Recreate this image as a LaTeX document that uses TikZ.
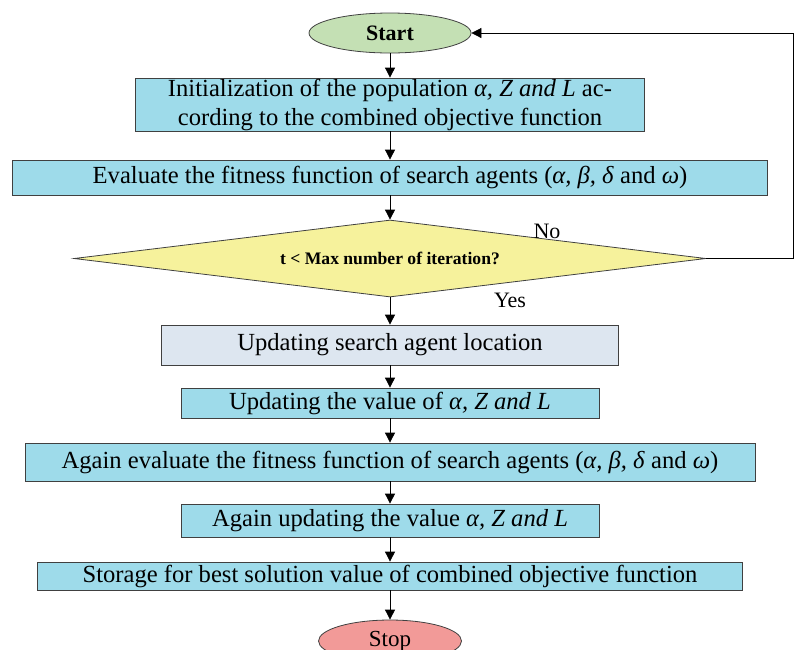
\documentclass[tikz,border=0pt]{standalone}
\usepackage{fontspec}
\setmainfont{Liberation Serif}
\usetikzlibrary{positioning, arrows.meta, shapes}

\definecolor{boxblue}{HTML}{9EDBEA}
\definecolor{boxgrey}{HTML}{DDE6F0}
\definecolor{startgreen}{HTML}{C4E0B4}
\definecolor{stopred}{HTML}{F29A98}
\definecolor{decyellow}{HTML}{F6F29C}

\begin{document}
\begin{tikzpicture}
            [x=0.5pt, y=-0.5pt,
             box/.style={rectangle, draw=black!75, fill=boxblue, inner sep=0pt, align=center,
                         font=\fontsize{12.3}{14.5}\selectfont},
             term/.style={ellipse, draw=black!75, inner sep=0pt, font=\fontsize{11.5}{13}\selectfont},
             lbl/.style={font=\fontsize{11}{13}\selectfont},
             >={Triangle[width=5pt, length=5pt]}]
            \useasboundingbox (0,0) rectangle (795,649);

            \node[term, fill=startgreen, minimum width=81pt, minimum height=20pt, font=\fontsize{11}{13}\selectfont\bfseries] (start) at (390,33) {Start};
            \node[box, minimum width=254.5pt, minimum height=26.5pt] (init) at (390,104.5)
                {Initialization of the population \textit{α, Z and L} ac-\\cording to the combined objective function};
            \node[box, minimum width=377.5pt, minimum height=17.5pt] (eval) at (390,177.5)
                {Evaluate the fitness function of search agents (\textit{α, β, δ} and \textit{ω})};
            \node[diamond, draw=black!75, fill=decyellow, aspect=8.2, inner sep=0pt,
                  minimum width=316pt, minimum height=38.5pt, font=\fontsize{8.8}{10}\selectfont\bfseries] (check) at (390,258.5)
                {t < Max number of iteration?};
            \node[box, fill=boxgrey, minimum width=228.5pt, minimum height=20pt] (loc) at (390,345)
                {Updating search agent location};
            \node[box, minimum width=209pt, minimum height=15pt] (val) at (390,403)
                {Updating the value of \textit{α, Z and L}};
            \node[box, minimum width=365pt, minimum height=19pt] (again) at (390,462)
                {Again evaluate the fitness function of search agents (\textit{α, β, δ} and \textit{ω})};
            \node[box, minimum width=209pt, minimum height=16.5pt] (upd) at (390,520.5)
                {Again updating the value \textit{α, Z and L}};
            \node[box, minimum width=352.5pt, minimum height=14pt] (store) at (390,576)
                {Storage for best solution value of combined objective function};
            \node[term, fill=stopred, minimum width=71.5pt, minimum height=21pt] (stop) at (390,641) {Stop};

            \node[lbl] (no) at (547,231) {No};
            \node[lbl] (yes) at (510,300) {Yes};

            \coordinate (r1) at (793,258.5);
            \coordinate (r2) at (793,33);

            \path [->] (start) edge (init);
            \path [->] (init) edge (eval);
            \path [->] (eval) edge (check);
            \path [->] (check) edge (loc);
            \path [->] (loc) edge (val);
            \path [->] (val) edge (again);
            \path [->] (again) edge (upd);
            \path [->] (upd) edge (store);
            \path [->] (store) edge (stop);
            \draw [->] (check.east) -- (r1) -- (r2) -- (start.east);
        \end{tikzpicture}
\end{document}
